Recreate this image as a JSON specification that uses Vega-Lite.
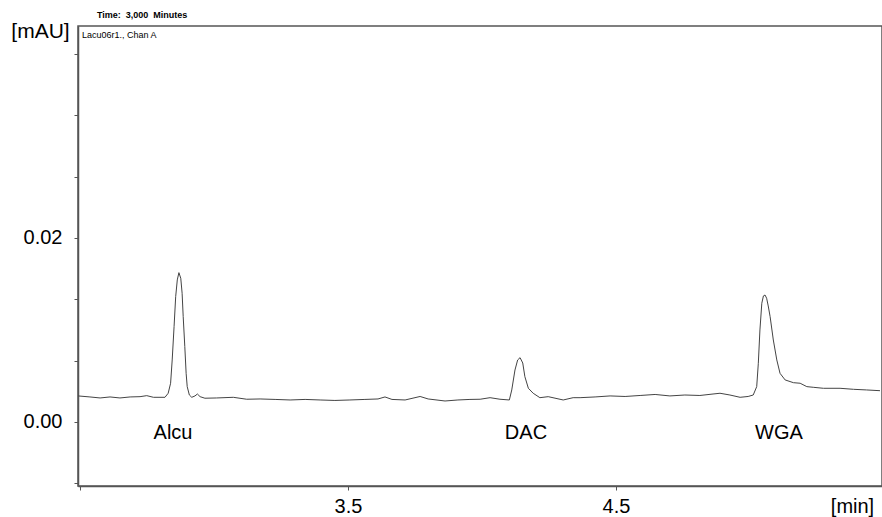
{
  "$schema": "https://vega.github.io/schema/vega-lite/v6.json",
  "autosize": "none",
  "width": 804,
  "height": 460,
  "padding": {"left": 78, "top": 26, "right": 0, "bottom": 31},
  "background": "white",
  "config": {
    "font": "Liberation Sans",
    "view": {"stroke": "#555", "strokeWidth": 1.5},
    "axis": {"grid": false, "domainColor": "#555", "domainWidth": 1.5, "tickColor": "#555", "tickWidth": 1, "labelColor": "black", "titleColor": "black", "labelFont": "Liberation Sans", "titleFont": "Liberation Sans", "labelFlush": false, "labelOverlap": false}
  },
  "title": {"text": "Time:\u00a0\u00a03,000\u00a0\u00a0Minutes", "anchor": "start", "frame": "group", "dx": 19, "offset": 0, "fontSize": 9, "fontWeight": "bold", "font": "Liberation Sans", "color": "black"},
  "datasets": {
    "trace": [
      {"t": 2.493, "v": 0.00283}, {"t": 2.537, "v": 0.00272}, {"t": 2.575, "v": 0.00261}, {"t": 2.612, "v": 0.00272},
      {"t": 2.649, "v": 0.00261}, {"t": 2.687, "v": 0.00272}, {"t": 2.724, "v": 0.00275}, {"t": 2.749, "v": 0.00286},
      {"t": 2.774, "v": 0.00268}, {"t": 2.817, "v": 0.00268}, {"t": 2.829, "v": 0.00312}, {"t": 2.838, "v": 0.00421},
      {"t": 2.844, "v": 0.00674}, {"t": 2.851, "v": 0.01036}, {"t": 2.857, "v": 0.01362}, {"t": 2.863, "v": 0.01544},
      {"t": 2.869, "v": 0.01623}, {"t": 2.876, "v": 0.01562}, {"t": 2.881, "v": 0.01399}, {"t": 2.885, "v": 0.01145},
      {"t": 2.891, "v": 0.00819}, {"t": 2.896, "v": 0.00529}, {"t": 2.900, "v": 0.00384}, {"t": 2.908, "v": 0.00293},
      {"t": 2.917, "v": 0.00268}, {"t": 2.929, "v": 0.00283}, {"t": 2.938, "v": 0.00304}, {"t": 2.948, "v": 0.00275},
      {"t": 2.966, "v": 0.00258}, {"t": 3.010, "v": 0.00261}, {"t": 3.072, "v": 0.00268}, {"t": 3.122, "v": 0.00247},
      {"t": 3.172, "v": 0.00250}, {"t": 3.228, "v": 0.00245}, {"t": 3.284, "v": 0.00239}, {"t": 3.340, "v": 0.00245},
      {"t": 3.396, "v": 0.00239}, {"t": 3.451, "v": 0.00234}, {"t": 3.507, "v": 0.00239}, {"t": 3.563, "v": 0.00245},
      {"t": 3.612, "v": 0.00250}, {"t": 3.638, "v": 0.00272}, {"t": 3.664, "v": 0.00245}, {"t": 3.713, "v": 0.00239},
      {"t": 3.769, "v": 0.00277}, {"t": 3.799, "v": 0.00250}, {"t": 3.862, "v": 0.00228}, {"t": 3.910, "v": 0.00239},
      {"t": 3.955, "v": 0.00245}, {"t": 3.993, "v": 0.00247}, {"t": 4.030, "v": 0.00264}, {"t": 4.067, "v": 0.00247},
      {"t": 4.102, "v": 0.00239}, {"t": 4.111, "v": 0.00348}, {"t": 4.123, "v": 0.00565}, {"t": 4.133, "v": 0.00674},
      {"t": 4.142, "v": 0.00699}, {"t": 4.152, "v": 0.00641}, {"t": 4.160, "v": 0.00492}, {"t": 4.173, "v": 0.00366},
      {"t": 4.191, "v": 0.00312}, {"t": 4.216, "v": 0.00264}, {"t": 4.247, "v": 0.00275}, {"t": 4.303, "v": 0.00239},
      {"t": 4.340, "v": 0.00264}, {"t": 4.366, "v": 0.00264}, {"t": 4.422, "v": 0.00272}, {"t": 4.478, "v": 0.00283},
      {"t": 4.534, "v": 0.00277}, {"t": 4.590, "v": 0.00288}, {"t": 4.646, "v": 0.00299}, {"t": 4.701, "v": 0.00283},
      {"t": 4.757, "v": 0.00293}, {"t": 4.813, "v": 0.00288}, {"t": 4.862, "v": 0.00304}, {"t": 4.888, "v": 0.00312},
      {"t": 4.925, "v": 0.00293}, {"t": 4.963, "v": 0.00268}, {"t": 4.993, "v": 0.00277}, {"t": 5.012, "v": 0.00293},
      {"t": 5.025, "v": 0.00384}, {"t": 5.031, "v": 0.00638}, {"t": 5.037, "v": 0.01000}, {"t": 5.044, "v": 0.01290},
      {"t": 5.050, "v": 0.01370}, {"t": 5.056, "v": 0.01380}, {"t": 5.062, "v": 0.01345}, {"t": 5.068, "v": 0.01261},
      {"t": 5.075, "v": 0.01145}, {"t": 5.087, "v": 0.00891}, {"t": 5.100, "v": 0.00674}, {"t": 5.112, "v": 0.00529},
      {"t": 5.131, "v": 0.00457}, {"t": 5.162, "v": 0.00427}, {"t": 5.187, "v": 0.00421}, {"t": 5.212, "v": 0.00384},
      {"t": 5.236, "v": 0.00377}, {"t": 5.274, "v": 0.00366}, {"t": 5.336, "v": 0.00366}, {"t": 5.386, "v": 0.00355},
      {"t": 5.435, "v": 0.00348}, {"t": 5.485, "v": 0.00340}
    ],
    "peaks": [
      {"t": 2.847, "v": -0.0012, "label": "Alcu"},
      {"t": 4.164, "v": -0.0012, "label": "DAC"},
      {"t": 5.108, "v": -0.0012, "label": "WGA"}
    ],
    "note": [
      {"t": 2.4925, "v": 0.04304, "label": "Lacu06r1., Chan A"}
    ]
  },
  "layer": [
    {
      "data": {"name": "trace"},
      "mark": {"type": "line", "color": "#444", "strokeWidth": 1, "interpolate": "linear"},
      "encoding": {
        "x": {"field": "t", "type": "quantitative",
          "scale": {"domain": [2.4925, 5.4925], "nice": false, "zero": false},
          "axis": {"values": [2.5, 3.5, 4.5], "labelExpr": "datum.value < 3 ? '' : format(datum.value, '.1f')", "tickSize": 4, "labelFontSize": 20, "labelPadding": 6, "title": "[min]", "titleAngle": 0, "titleX": 774, "titleY": 20, "titleAlign": "center", "titleBaseline": "middle", "titleFontSize": 20, "titleFontWeight": "normal"}},
        "y": {"field": "v", "type": "quantitative",
          "scale": {"domain": [-0.00696, 0.04304], "nice": false, "zero": false},
          "axis": {"values": [-0.006667, 0, 0.006667, 0.013333, 0.02, 0.026667, 0.033333, 0.04], "labelExpr": "abs(datum.value) < 1e-6 || abs(datum.value - 0.02) < 1e-6 ? format(datum.value, '.2f') : ''", "tickSize": 4, "labelFontSize": 20, "labelPadding": 12, "title": "[mAU]", "titleAngle": 0, "titleX": -38, "titleY": 5, "titleAlign": "center", "titleBaseline": "middle", "titleFontSize": 21, "titleFontWeight": "normal"}}
      }
    },
    {
      "data": {"name": "peaks"},
      "mark": {"type": "text", "fontSize": 20, "baseline": "middle", "align": "center", "color": "black"},
      "encoding": {
        "x": {"field": "t", "type": "quantitative"},
        "y": {"field": "v", "type": "quantitative"},
        "text": {"field": "label"}
      }
    },
    {
      "data": {"name": "note"},
      "mark": {"type": "text", "fontSize": 9, "baseline": "top", "align": "left", "dx": 4, "dy": 5, "color": "black"},
      "encoding": {
        "x": {"field": "t", "type": "quantitative"},
        "y": {"field": "v", "type": "quantitative"},
        "text": {"field": "label"}
      }
    }
  ]
}
